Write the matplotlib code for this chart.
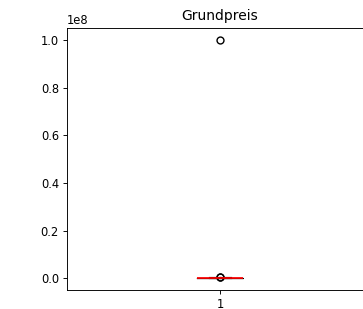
import matplotlib
matplotlib.use("Agg")
import matplotlib.pyplot as plt

# Grundpreis values (EUR), mostly small, one extreme entry
grundpreis = [40000, 52000, 60000, 68000, 75000, 80000, 85000, 89000,
              92000, 95000, 99000, 104000, 109000, 115000, 120000, 126000,
              133000, 140000, 149000, 158000, 169000, 240000, 265000,
              290000, 310000, 335000, 360000, 100000000]

s = 0.83  # the reference looks like a scaled-down render
plt.rcParams.update({
    "font.size": 10 * s,
    "axes.linewidth": 0.8 * s,
    "xtick.major.size": 3.5 * s,
    "ytick.major.size": 3.5 * s,
    "xtick.major.width": 0.8 * s,
    "ytick.major.width": 0.8 * s,
    "xtick.major.pad": 3.5 * s,
    "ytick.major.pad": 3.5 * s,
    "lines.markersize": 6 * s,
    "boxplot.boxprops.linewidth": 1.0 * s,
    "boxplot.whiskerprops.linewidth": 1.0 * s,
    "boxplot.capprops.linewidth": 1.0 * s,
    "boxplot.flierprops.markersize": 6 * s,
})

fig = plt.figure(figsize=(3.63, 3.09), dpi=100)
ax = fig.add_axes([0.1846, 0.0615, 0.843, 0.848])
ax.boxplot(grundpreis, medianprops=dict(color="red", linewidth=1.5 * s))
ax.set_title("Grundpreis")

fig.savefig("out.png", dpi=100)
